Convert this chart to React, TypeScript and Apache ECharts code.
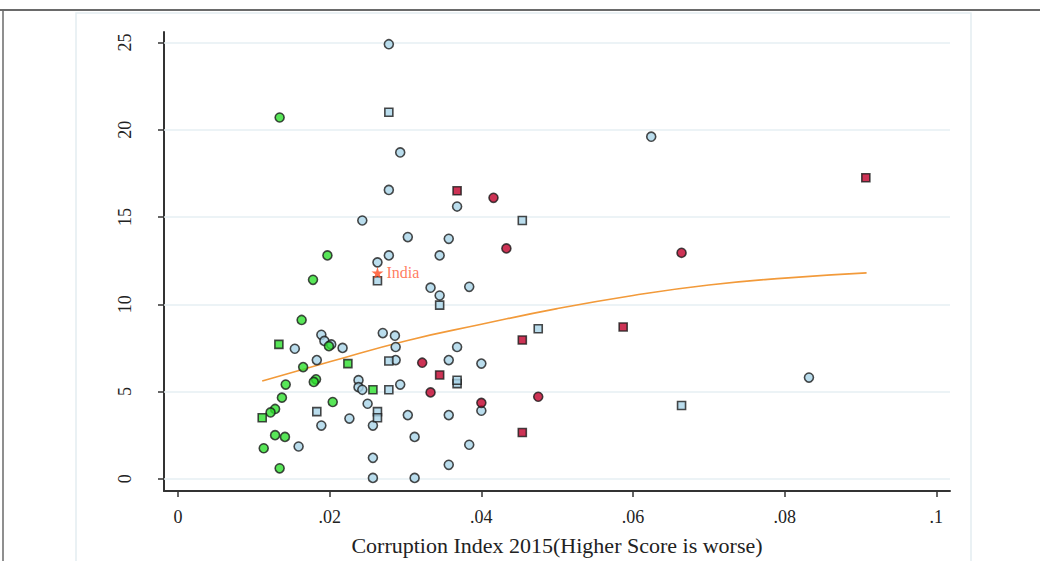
import React, { useEffect, useRef } from "react";
import * as echarts from "echarts";

const xTicks = [0, 0.02, 0.04, 0.06, 0.08, 0.1];
const yTicks = [0, 5, 10, 15, 20, 25];

const blueRound: [number, number][] = [
  [0.0278, 24.9], [0.0293, 18.7], [0.0624, 19.6], [0.0278, 16.55], [0.0368, 15.6],
  [0.0243, 14.8], [0.0303, 13.85], [0.0357, 13.75], [0.0278, 12.8], [0.0345, 12.8],
  [0.0263, 12.4], [0.0333, 10.95], [0.0384, 11.0], [0.0345, 10.5], [0.027, 8.35],
  [0.0286, 8.2], [0.0287, 7.55], [0.0189, 8.25], [0.0193, 7.9], [0.0202, 7.7],
  [0.0154, 7.45], [0.0217, 7.5], [0.0368, 7.55], [0.0183, 6.8], [0.0287, 6.8],
  [0.0357, 6.8], [0.04, 6.6], [0.0238, 5.65], [0.0238, 5.25], [0.0243, 5.1],
  [0.0293, 5.4], [0.025, 4.3], [0.0226, 3.45], [0.0189, 3.05], [0.0257, 3.05],
  [0.0303, 3.65], [0.0357, 3.65], [0.04, 3.9], [0.0312, 2.4], [0.0384, 1.95],
  [0.0159, 1.85], [0.0257, 1.2], [0.0357, 0.8], [0.0257, 0.05], [0.0312, 0.05],
  [0.0832, 5.8],
];
const blueSquare: [number, number][] = [
  [0.0278, 21.0], [0.0454, 14.8], [0.0263, 11.35], [0.0345, 9.95], [0.0475, 8.6],
  [0.0278, 6.75], [0.0278, 5.1], [0.0368, 5.45], [0.0368, 5.65], [0.0183, 3.85],
  [0.0263, 3.85], [0.0263, 3.5], [0.0664, 4.2],
];
const greenRound: [number, number][] = [
  [0.0134, 20.7], [0.0197, 12.8], [0.0178, 11.4], [0.0163, 9.1], [0.0199, 7.6],
  [0.0165, 6.4], [0.0182, 5.7], [0.0179, 5.55], [0.0142, 5.4], [0.0137, 4.65],
  [0.0204, 4.4], [0.0128, 4.0], [0.0122, 3.8], [0.0128, 2.5], [0.0141, 2.4],
  [0.0113, 1.75], [0.0134, 0.6],
];
const greenSquare: [number, number][] = [
  [0.0133, 7.7], [0.0224, 6.6], [0.0257, 5.1], [0.0111, 3.5],
];
const redRound: [number, number][] = [
  [0.0416, 16.1], [0.0433, 13.2], [0.0664, 12.95], [0.0322, 6.65], [0.0333, 4.95],
  [0.0475, 4.7], [0.04, 4.35],
];
const redSquare: [number, number][] = [
  [0.0368, 16.5], [0.0907, 17.25], [0.0587, 8.7], [0.0454, 7.95], [0.0345, 5.95],
  [0.0454, 2.65],
];
const india: [number, number][] = [[0.0263, 11.8]];
const fitLine: [number, number][] = [
  [0.0111, 5.6], [0.02, 6.7], [0.03, 7.9], [0.04, 8.85], [0.05, 9.75],
  [0.06, 10.5], [0.07, 11.1], [0.08, 11.5], [0.0908, 11.8],
];

const serif = "Liberation Serif";
const STAR = "path://M50,0 L61,35 L98,35 L68,57 L79,91 L50,70 L21,91 L32,57 L2,35 L39,35 Z";

function scatter(name: string, data: [number, number][], color: string, symbol: string, size: number) {
  return {
    name,
    type: "scatter",
    data,
    symbol,
    symbolSize: size,
    itemStyle: { color, borderColor: "#1b1b1b", borderWidth: 1.6 },
    z: 3,
  };
}

export default function App() {
  const ref = useRef<HTMLDivElement>(null);
  useEffect(() => {
    const chart = echarts.init(ref.current!, null, { renderer: "svg" });
    chart.setOption({
      animation: false,
      backgroundColor: "#ffffff",
      graphic: [
        { type: "rect", shape: { x: 76, y: 13, width: 895, height: 560 }, style: { fill: "none", stroke: "#e4edf1", lineWidth: 1.5 }, silent: true },
        { type: "line", shape: { x1: 0, y1: 10, x2: 1040, y2: 10 }, style: { stroke: "#6a6a6a", lineWidth: 2 }, silent: true },
        { type: "line", shape: { x1: 3, y1: 10, x2: 3, y2: 561 }, style: { stroke: "#6a6a6a", lineWidth: 1.5 }, silent: true },
      ],
      grid: { left: 164, right: 90, top: 32, bottom: 68 },
      xAxis: {
        type: "value",
        min: -0.00185,
        max: 0.1018,
        name: "Corruption Index 2015(Higher Score is worse)",
        nameLocation: "middle",
        nameGap: 43,
        nameTextStyle: { fontFamily: serif, fontSize: 22, color: "#222" },
        axisLine: { show: true, onZero: false, lineStyle: { color: "#333", width: 2 } },
        axisTick: { show: true, length: 6, customValues: xTicks, lineStyle: { color: "#333", width: 1.5 } },
        axisLabel: {
          customValues: xTicks,
          fontFamily: serif,
          fontSize: 18,
          color: "#222",
          margin: 17,
          formatter: (v: number) => (v === 0 ? "0" : String(v).replace(/^0/, "")),
        },
        splitLine: { show: false },
      },
      yAxis: {
        type: "value",
        min: -0.7,
        max: 25.6,
        axisLine: { show: true, onZero: false, lineStyle: { color: "#333", width: 2 } },
        axisTick: { show: true, length: 6, customValues: yTicks, lineStyle: { color: "#333", width: 1.5 } },
        axisLabel: {
          customValues: yTicks,
          rotate: 90,
          fontFamily: serif,
          fontSize: 18,
          color: "#222",
          margin: 30,
        },
        splitLine: { show: false },
      },
      series: [
        {
          name: "fit",
          type: "line",
          data: fitLine,
          smooth: true,
          showSymbol: false,
          lineStyle: { color: "#f29a3a", width: 1.6 },
          z: 2,
          markLine: {
            silent: true,
            symbol: "none",
            label: { show: false },
            lineStyle: { color: "#e6eff3", width: 1.5, type: "solid" },
            data: yTicks.map((v) => ({ yAxis: v })),
            z: 1,
          },
        },
        scatter("blueRound", blueRound, "#a9d5e8", "circle", 9),
        scatter("blueSquare", blueSquare, "#a9d5e8", "rect", 8),
        scatter("greenRound", greenRound, "#2ee02e", "circle", 9),
        scatter("greenSquare", greenSquare, "#2ee02e", "rect", 8),
        scatter("redRound", redRound, "#c0002a", "circle", 9),
        scatter("redSquare", redSquare, "#c0002a", "rect", 8),
        {
          name: "India",
          type: "scatter",
          data: india,
          symbol: STAR,
          symbolSize: 12,
          itemStyle: { color: "#ff4a1f" },
          label: {
            show: true,
            position: "right",
            distance: 3,
            formatter: "India",
            fontFamily: serif,
            fontSize: 16,
            color: "#ff5a36",
          },
          z: 4,
        },
      ],
    });
    return () => chart.dispose();
  }, []);
  return <div ref={ref} style={{ position: "fixed", left: 0, top: 0, width: 1040, height: 561 }} />;
}
